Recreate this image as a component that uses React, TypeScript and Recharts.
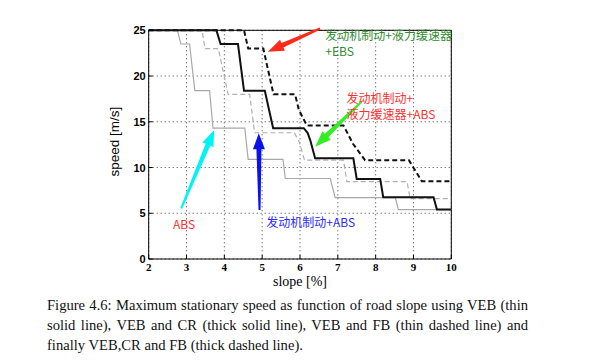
import React from "react";
import {
  LineChart,
  Line,
  XAxis,
  YAxis,
  CartesianGrid,
  ReferenceLine,
  ReferenceDot,
} from "recharts";

// slope [%] / speed [m/s] step curves
const vebX = [2, 2.76, 2.85, 3.08, 3.22, 3.61, 3.7, 4.54, 4.63, 5.55, 5.61, 6.8, 6.93, 8.52, 8.6, 10];
const vebY = [25, 25, 23.5, 23.5, 18.4, 18.4, 14.3, 14.3, 10.9, 10.9, 8.8, 8.8, 6.7, 6.7, 5.4, 5.4];

const vebCrX = [2, 3.79, 3.9, 4.36, 4.52, 5.07, 5.29, 6.1, 6.2, 6.27, 6.4, 7.41, 7.5, 8.12, 8.2, 9.53, 9.62, 10];
const vebCrY = [25, 25, 23.5, 23.5, 18.4, 18.4, 14.3, 14.3, 13.8, 13.0, 11.0, 11.0, 8.75, 8.75, 6.75, 6.75, 5.4, 5.4];

const vebFbX = [2, 3.41, 3.49, 3.84, 4.1, 4.67, 4.8, 5.85, 5.98, 6.12, 7.15, 7.24, 8.83, 8.91, 10];
const vebFbY = [25, 25, 23.0, 23.0, 18.0, 18.0, 13.8, 13.8, 12.8, 10.8, 10.8, 8.45, 8.45, 6.6, 6.6];

const vebCrFbX = [2, 4.52, 4.63, 5.03, 5.3, 5.87, 5.97, 6.18, 7.15, 7.4, 7.72, 8.88, 9.22, 10];
const vebCrFbY = [25, 25, 23.0, 23.0, 18.0, 18.0, 16.3, 14.6, 14.6, 12.6, 10.8, 10.8, 8.5, 8.5];

const xTicks = [2, 3, 4, 5, 6, 7, 8, 9, 10];
const yTicks = [0, 5, 10, 15, 20, 25];

// annotation arrows: tail -> tip, in axis units
const arrows = [
  { color: "#ff2a1a", tail: [6.53, 25.2], tip: [5.15, 22.66] },
  { color: "#33ee22", tail: [7.63, 17.2], tip: [6.4, 12.28] },
  { color: "#00f4f4", tail: [2.86, 5.54], tip: [3.73, 14.1] },
  { color: "#0a10ee", tail: [4.93, 5.36], tip: [4.91, 13.74] },
];

const notes = [
  { text: "发动机制动+液力缓速器", x: 6.67, y: 24.5, color: "#2e8b2e" },
  { text: "+EBS", x: 6.67, y: 22.77, color: "#2e8b2e" },
  { text: "发动机制动+", x: 7.23, y: 17.62, color: "#ff3030" },
  { text: "液力缓速器+ABS", x: 7.23, y: 15.9, color: "#ff3030" },
  { text: "ABS", x: 2.64, y: 3.9, color: "#ff3030" },
  { text: "发动机制动+ABS", x: 5.11, y: 4.08, color: "#2a2aff" },
];

const zip = (xs: number[], ys: number[]) => xs.map((x, i) => ({ x, y: ys[i] }));

const XTick = ({ x, y, payload }: any) => (
  <g>
    <line x1={x} y1={y} x2={x} y2={y - 4} stroke="#000" />
    <text
      x={x}
      y={y + 12}
      textAnchor="middle"
      fontFamily="Liberation Serif"
      fontWeight="bold"
      fontSize={11}
      fill="#000"
    >
      {payload.value}
    </text>
  </g>
);

const YTick = ({ x, y, payload }: any) => (
  <g>
    <line x1={x} y1={y} x2={x + 4} y2={y} stroke="#000" />
    <text
      x={x - 3}
      y={y + 4}
      textAnchor="end"
      fontFamily="Liberation Sans"
      fontWeight="bold"
      fontSize={11}
      fill="#000"
    >
      {payload.value}
    </text>
  </g>
);

const Arrow = ({ x1, y1, x2, y2, color }: any) => {
  const dx = x2 - x1;
  const dy = y2 - y1;
  const len = Math.sqrt(dx * dx + dy * dy);
  const ux = dx / len;
  const uy = dy / len;
  const nx = -uy;
  const ny = ux;
  const headLen = 16;
  const bx = x2 - ux * headLen;
  const by = y2 - uy * headLen;
  const pts = [
    [x1 + nx * 1, y1 + ny * 1],
    [bx + nx * 2.5, by + ny * 2.5],
    [bx + nx * 6, by + ny * 6],
    [x2, y2],
    [bx - nx * 6, by - ny * 6],
    [bx - nx * 2.5, by - ny * 2.5],
    [x1 - nx * 1, y1 - ny * 1],
  ];
  return <polygon points={pts.map((p) => p.join(",")).join(" ")} fill={color} />;
};

const Note = ({ cx, cy, text, color }: any) => (
  <text
    x={cx}
    y={cy}
    dominantBaseline="central"
    fontFamily="Noto Sans CJK SC"
    fontSize={12}
    fill={color}
  >
    {text}
  </text>
);

const captionLine: React.CSSProperties = {
  textAlign: "justify",
  textAlignLast: "justify",
  whiteSpace: "nowrap",
};

export default function App() {
  return (
    <div
      style={{
        position: "absolute",
        left: 0,
        top: 0,
        width: 600,
        height: 361,
        background: "#fff",
        overflow: "hidden",
      }}
    >
      <LineChart
        width={600}
        height={290}
        margin={{ top: 30.3, right: 148.7, left: 88.7, bottom: 0 }}
      >
        <CartesianGrid stroke="#444" strokeDasharray="1 3" />
        <XAxis
          dataKey="x"
          type="number"
          domain={[2, 10]}
          ticks={xTicks}
          allowDuplicatedCategory={false}
          height={31}
          tickSize={0}
          tickMargin={0}
          tick={<XTick />}
          axisLine={{ stroke: "#000" }}
          label={{
            value: "slope [%]",
            position: "insideBottom",
            offset: 4,
            style: { fontFamily: "Liberation Serif", fontSize: 14, fill: "#000" },
          }}
        />
        <YAxis
          type="number"
          domain={[0, 25]}
          ticks={yTicks}
          width={60}
          tickSize={0}
          tickMargin={0}
          tick={<YTick />}
          axisLine={{ stroke: "#000" }}
          label={{
            value: "speed [m/s]",
            angle: -90,
            position: "insideLeft",
            offset: 26,
            dy: -3,
            style: { textAnchor: "middle", fontFamily: "Liberation Sans", fontSize: 13.5, fill: "#000" },
          }}
        />
        <ReferenceLine x={10} stroke="#000" />
        <ReferenceLine y={25} stroke="#000" />
        <Line
          data={zip(vebX, vebY)}
          dataKey="y"
          type="linear"
          stroke="#a8a8a8"
          strokeWidth={1.2}
          dot={false}
          isAnimationActive={false}
        />
        <Line
          data={zip(vebFbX, vebFbY)}
          dataKey="y"
          type="linear"
          stroke="#b0b0b0"
          strokeWidth={1.2}
          strokeDasharray="5 3"
          dot={false}
          isAnimationActive={false}
        />
        <Line
          data={zip(vebCrX, vebCrY)}
          dataKey="y"
          type="linear"
          stroke="#111"
          strokeWidth={2}
          dot={false}
          isAnimationActive={false}
        />
        <Line
          data={zip(vebCrFbX, vebCrFbY)}
          dataKey="y"
          type="linear"
          stroke="#111"
          strokeWidth={2}
          strokeDasharray="5 3"
          dot={false}
          isAnimationActive={false}
        />
        {arrows.map((a, i) => (
          <ReferenceLine
            key={"a" + i}
            segment={[
              { x: a.tail[0], y: a.tail[1] },
              { x: a.tip[0], y: a.tip[1] },
            ]}
            ifOverflow="visible"
            shape={(p: any) => <Arrow {...p} color={a.color} />}
          />
        ))}
        {notes.map((n, i) => (
          <ReferenceDot
            key={"n" + i}
            x={n.x}
            y={n.y}
            r={0}
            ifOverflow="visible"
            shape={(p: any) => <Note {...p} text={n.text} color={n.color} />}
          />
        ))}
      </LineChart>
      <div
        style={{
          position: "absolute",
          left: 47,
          top: 295,
          width: 481,
          fontFamily: "Liberation Serif",
          fontSize: 14.6,
          lineHeight: "20px",
          color: "#111",
        }}
      >
        <div style={captionLine}>
          Figure 4.6: Maximum stationary speed as function of road slope using VEB (thin
        </div>
        <div style={captionLine}>
          solid line), VEB and CR (thick solid line), VEB and FB (thin dashed line) and
        </div>
        <div style={{ whiteSpace: "nowrap" }}>finally VEB,CR and FB (thick dashed line).</div>
      </div>
    </div>
  );
}
